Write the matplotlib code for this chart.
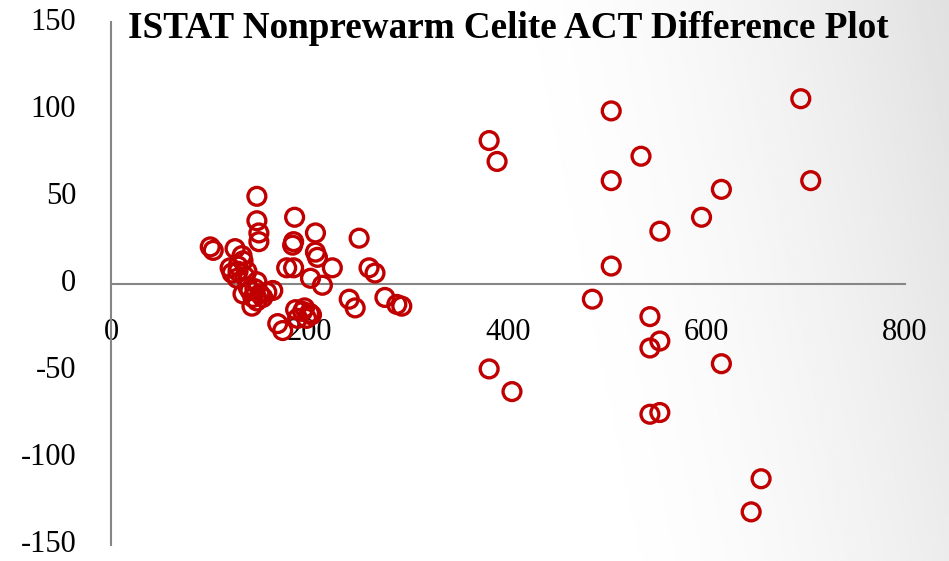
import numpy as np
import matplotlib.pyplot as plt

# mean of the two ACT methods (x) vs their difference (y)
mean_act = [
    100, 103, 125, 132, 133, 128, 120, 122, 128, 137, 127, 135, 147, 140, 133,
    143, 150, 157, 163, 142, 147, 153, 145, 138,
    147, 147, 149, 149, 185, 206, 184, 183, 206, 208, 223, 250, 260, 266, 177,
    184, 201, 213, 240, 246, 276, 288, 293,
    168, 173, 186, 193, 197, 202, 188, 195, 200,
    381, 389, 504, 534, 504, 504, 485, 381, 404, 695, 705, 615, 595, 553, 543,
    553, 543, 615, 543, 553, 655, 645,
]
diff_act = [
    21, 19, 20, 16, 13, 10, 9, 6, 7, 7, 3, 4, 1, -4, -6,
    -8, -6, -5, -4, -13, -10, -8, -3, -2,
    50, 36, 29, 24, 38, 29, 24, 22, 18, 15, 9, 26, 9, 6, 9,
    9, 3, -1, -9, -14, -8, -12, -13,
    -23, -27, -15, -16, -20, -18, -20, -14, -17,
    82, 70, 99, 73, 59, 10, -9, -49, -62, 106, 59, 54, 38, 30, -19,
    -33, -37, -46, -75, -74, -112, -131,
]

title = "ISTAT Nonprewarm Celite ACT Difference Plot"

plt.rcParams["font.family"] = ["Liberation Serif", "DejaVu Serif"]
plt.rcParams["axes.unicode_minus"] = False

fig = plt.figure(figsize=(9.49, 5.61), dpi=100)

# soft grey shading towards the right edge
bg = fig.add_axes([0, 0, 1, 1], zorder=-1)
gx, gy = np.meshgrid(np.linspace(0, 1, 400), np.linspace(1, 0, 240))
t = gx + 0.12 * gy
shade = 1 - 0.12 * np.clip((t - 0.6) / 0.52, 0, 1) ** 1.8
bg.imshow(shade, cmap="gray", vmin=0, vmax=1, extent=[0, 1, 0, 1], aspect="auto")
bg.axis("off")

ax = fig.add_axes([111 / 949, 1 - 545 / 561, 794 / 949, 523 / 561])
ax.patch.set_alpha(0)

ax.scatter(mean_act, diff_act, s=165, facecolors="none", edgecolors="#C00000",
           linewidths=2.4, zorder=3)

ax.set_xlim(0, 800)
ax.set_ylim(-150, 150)
ax.set_xticks([0, 200, 400, 600, 800])
ax.set_yticks([-150, -100, -50, 0, 50, 100, 150])

ax.spines["left"].set_position(("data", 0))
ax.spines["bottom"].set_position(("data", 0))
ax.spines["top"].set_visible(False)
ax.spines["right"].set_visible(False)
for s in ("left", "bottom"):
    ax.spines[s].set_color("#868686")
    ax.spines[s].set_linewidth(1.5)

ax.tick_params(axis="both", length=0, labelsize=22)
ax.tick_params(axis="x", pad=25)
ax.tick_params(axis="y", pad=25)
for lbl in ax.get_yticklabels():
    lbl.set_verticalalignment("center")

fig.text(128 / 949, 1 - 38 / 561, title, fontsize=26.7, fontweight="bold",
         ha="left", va="baseline")

fig.savefig("out.png", dpi=100)
